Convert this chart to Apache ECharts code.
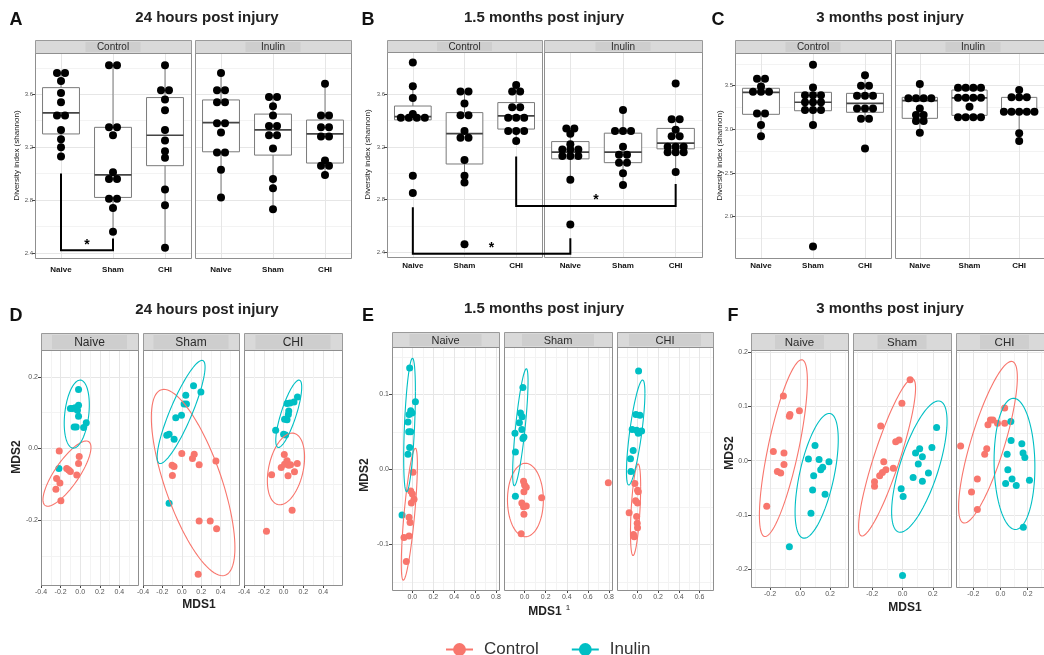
<!DOCTYPE html>
<html>
<head>
<meta charset="utf-8">
<script src="https://cdn.jsdelivr.net/npm/echarts@6/dist/echarts.min.js"></script>
<style>
  html, body { margin: 0; padding: 0; background: #fff; }
  #main { width: 1044px; height: 655px; }
</style>
</head>
<body>
<div id="main"></div>
<script>
// ---------- data ----------
var categories = ['Naive', 'Sham', 'CHI'];
var facetsTop = ['Control', 'Inulin'];
var facetsBottom = ['Naive', 'Sham', 'CHI'];
var groups = ['Control', 'Inulin'];

// Shannon index, one dot per animal: [Naive, Sham, CHI]
var h24_control_dots = [
  [3.76, 3.76, 3.70, 3.61, 3.54, 3.44, 3.44, 3.33, 3.26, 3.20, 3.13],
  [3.82, 3.82, 3.35, 3.35, 3.29, 3.01, 2.96, 2.96, 2.81, 2.81, 2.74, 2.56],
  [3.82, 3.63, 3.63, 3.56, 3.48, 3.33, 3.25, 3.17, 3.12, 2.88, 2.76, 2.44]
];
var h24_inulin_dots = [
  [3.76, 3.63, 3.63, 3.54, 3.54, 3.38, 3.38, 3.31, 3.16, 3.16, 3.03, 2.82],
  [3.58, 3.58, 3.51, 3.44, 3.36, 3.36, 3.29, 3.29, 3.19, 2.96, 2.89, 2.73],
  [3.68, 3.44, 3.44, 3.35, 3.35, 3.28, 3.28, 3.10, 3.06, 3.06, 2.99]
];
// box stats: [lower whisker, Q1, median, Q3, upper whisker]
var h24_control_box = [[3.13, 3.30, 3.46, 3.65, 3.76], [2.56, 2.82, 2.99, 3.35, 3.82], [2.44, 3.06, 3.29, 3.575, 3.82]];
var h24_inulin_box = [[2.82, 3.165, 3.385, 3.557, 3.76], [2.73, 3.14, 3.33, 3.45, 3.58], [2.99, 3.08, 3.30, 3.405, 3.68]];

var m15_control_dots = [
  [3.84, 3.66, 3.57, 3.45, 3.42, 3.42, 3.42, 3.42, 2.98, 2.85],
  [3.62, 3.62, 3.53, 3.44, 3.44, 3.32, 3.27, 3.27, 3.10, 2.98, 2.93, 2.46],
  [3.67, 3.62, 3.62, 3.50, 3.50, 3.42, 3.42, 3.42, 3.32, 3.32, 3.32, 3.245]
];
var m15_inulin_dots = [
  [3.34, 3.34, 3.30, 3.22, 3.18, 3.18, 3.18, 3.13, 3.13, 3.13, 2.95, 2.61],
  [3.48, 3.32, 3.32, 3.32, 3.20, 3.14, 3.14, 3.08, 3.08, 3.00, 2.91],
  [3.68, 3.41, 3.41, 3.33, 3.28, 3.28, 3.20, 3.20, 3.20, 3.16, 3.16, 3.16, 3.01]
];
var m15_control_box = [[3.405, 3.405, 3.43, 3.51, 3.66], [2.93, 3.07, 3.30, 3.46, 3.62], [3.245, 3.335, 3.435, 3.536, 3.67]];
var m15_inulin_box = [[2.95, 3.109, 3.16, 3.24, 3.34], [2.91, 3.08, 3.16, 3.304, 3.48], [3.01, 3.185, 3.228, 3.34, 3.41]];

var m3_control_dots = [
  [3.58, 3.58, 3.49, 3.43, 3.43, 3.43, 3.18, 3.18, 3.05, 2.92],
  [3.74, 3.48, 3.39, 3.39, 3.39, 3.31, 3.31, 3.31, 3.22, 3.22, 3.22, 3.05, 1.66],
  [3.62, 3.50, 3.50, 3.385, 3.385, 3.385, 3.24, 3.24, 3.24, 3.12, 3.12, 2.78]
];
var m3_inulin_dots = [
  [3.52, 3.355, 3.355, 3.355, 3.355, 3.24, 3.164, 3.164, 3.095, 3.095, 2.96],
  [3.477, 3.477, 3.477, 3.477, 3.362, 3.362, 3.362, 3.362, 3.26, 3.137, 3.137, 3.137, 3.137],
  [3.45, 3.366, 3.366, 3.366, 3.20, 3.20, 3.20, 3.20, 3.20, 2.955, 2.866]
];
var m3_control_box = [[2.92, 3.172, 3.424, 3.47, 3.58], [3.05, 3.213, 3.31, 3.424, 3.48], [3.12, 3.195, 3.298, 3.412, 3.62]];
var m3_inulin_box = [[2.96, 3.126, 3.328, 3.366, 3.52], [3.137, 3.16, 3.36, 3.45, 3.477], [2.866, 3.19, 3.20, 3.366, 3.45]];

// significance brackets: from/to = [facet, category, top of leg], base = bracket bottom
var h24_brackets = [{ from: [0, 0, 3.00], to: [0, 1, 2.51], base: 2.42, star: 2.474 }];
var m15_brackets = [
  { from: [0, 0, 2.742], to: [1, 0, 2.507], base: 2.388, star: 2.443 },
  { from: [0, 2, 3.126], to: [1, 2, 2.919], base: 2.752, star: 2.81 }
];

// MDS points [MDS1, MDS2], per facet [Naive, Sham, CHI]
var d_control_pts = [
  [[-0.214, -0.007], [-0.010, -0.022], [-0.017, -0.042], [-0.138, -0.056], [-0.117, -0.060], [-0.100, -0.064], [-0.035, -0.074], [-0.241, -0.084], [-0.207, -0.096], [-0.248, -0.114], [-0.197, -0.146]],
  [[0.0, -0.014], [0.128, -0.016], [0.110, -0.028], [0.179, -0.045], [0.352, -0.035], [-0.10, -0.047], [-0.08, -0.050], [-0.097, -0.075], [0.179, -0.202], [0.293, -0.202], [0.359, -0.224], [0.169, -0.351]],
  [[0.007, -0.017], [0.035, -0.034], [-0.024, -0.053], [0.010, -0.044], [0.052, -0.047], [0.138, -0.042], [0.110, -0.065], [0.045, -0.076], [-0.121, -0.073], [0.086, -0.172], [-0.173, -0.231], [0.070, -0.045]]
];
var d_inulin_pts = [
  [[-0.017, 0.165], [-0.100, 0.112], [-0.076, 0.112], [-0.052, 0.114], [-0.017, 0.121], [-0.028, 0.107], [-0.017, 0.090], [-0.041, 0.060], [-0.062, 0.060], [0.035, 0.059], [0.062, 0.072], [-0.217, -0.056]],
  [[0.121, 0.175], [0.197, 0.158], [0.041, 0.149], [0.024, 0.124], [0.048, 0.124], [-0.003, 0.093], [-0.062, 0.086], [-0.131, 0.040], [-0.155, 0.037], [-0.079, 0.026], [-0.131, -0.153]],
  [[0.140, 0.144], [0.105, 0.130], [0.065, 0.127], [0.035, 0.126], [0.052, 0.105], [0.048, 0.095], [0.035, 0.080], [0.010, 0.082], [-0.080, 0.051], [0.000, 0.040], [0.020, 0.038]]
];
var e_control_pts = [
  [[0.006, -0.004], [-0.016, -0.029], [0, -0.033], [0.016, -0.040], [-0.010, -0.045], [-0.032, -0.064], [-0.022, -0.071], [-0.032, -0.089], [-0.080, -0.091], [-0.058, -0.123]],
  [[-0.010, -0.016], [0, -0.021], [0.016, -0.024], [-0.006, -0.030], [0.162, -0.038], [-0.026, -0.045], [0.016, -0.049], [-0.010, -0.050], [-0.006, -0.060], [-0.032, -0.086], [0.794, -0.018]],
  [[-0.023, -0.019], [0.003, -0.028], [0.010, -0.030], [-0.016, -0.042], [0.003, -0.045], [-0.078, -0.058], [-0.006, -0.063], [0, -0.072], [0.003, -0.078], [-0.036, -0.087], [-0.029, -0.090]]
];
var e_inulin_pts = [
  [[-0.026, 0.135], [0.029, 0.090], [-0.016, 0.078], [-0.032, 0.073], [-0.003, 0.075], [-0.042, 0.063], [-0.035, 0.050], [-0.016, 0.050], [-0.026, 0.029], [-0.042, 0.020], [-0.099, -0.061]],
  [[-0.016, 0.109], [-0.039, 0.075], [-0.023, 0.070], [-0.049, 0.062], [-0.026, 0.053], [-0.091, 0.048], [-0.006, 0.043], [-0.016, 0.041], [-0.087, 0.023], [-0.087, -0.036]],
  [[0.013, 0.131], [-0.013, 0.073], [0.026, 0.072], [-0.049, 0.053], [-0.006, 0.052], [0.019, 0.050], [0.042, 0.051], [-0.039, 0.025], [-0.065, 0.014], [-0.061, -0.003], [0.010, 0.048]]
];
var f_control_pts = [
  [[-0.111, 0.119], [-0.071, 0.082], [-0.067, 0.085], [-0.004, 0.092], [-0.178, 0.017], [-0.107, 0.014], [-0.107, -0.007], [-0.151, -0.020], [-0.129, -0.023], [-0.222, -0.084]],
  [[0.050, 0.149], [-0.004, 0.106], [-0.144, 0.064], [-0.023, 0.038], [-0.045, 0.035], [-0.124, -0.002], [-0.061, -0.014], [-0.110, -0.017], [-0.133, -0.022], [-0.151, -0.028], [-0.185, -0.039], [-0.185, -0.047]],
  [[-0.293, 0.027], [0.031, 0.097], [-0.092, 0.066], [-0.074, 0.075], [-0.056, 0.075], [-0.022, 0.069], [0.031, 0.069], [-0.101, 0.022], [-0.116, 0.012], [-0.170, -0.034], [-0.213, -0.058], [-0.170, -0.090]]
];
var f_inulin_pts = [
  [[0.100, 0.028], [0.056, 0.003], [0.127, 0.002], [0.193, -0.002], [0.151, -0.012], [0.138, -0.017], [0.091, -0.028], [0.084, -0.054], [0.167, -0.062], [0.073, -0.097], [-0.071, -0.159]],
  [[0.225, 0.061], [0.194, 0.024], [0.113, 0.022], [0.086, 0.014], [0.131, 0.007], [0.104, -0.006], [0.171, -0.023], [0.070, -0.031], [0.131, -0.038], [-0.009, -0.052], [0.004, -0.066], [0, -0.212]],
  [[0.076, 0.072], [0.078, 0.037], [0.049, 0.012], [0.157, 0.031], [0.166, 0.014], [0.179, 0.006], [0.054, -0.017], [0.085, -0.034], [0.038, -0.042], [0.116, -0.046], [0.213, -0.036], [0.168, -0.123]]
];

// 95% ellipses: [centre x, centre y, half-width x, half-height y, correlation]
var d_control_ell = [[-0.135, -0.070, 0.245, 0.091, 0.80], [0.117, -0.095, 0.431, 0.260, -0.70], [0.024, -0.057, 0.188, 0.100, 0.33]];
var d_inulin_ell = [[-0.035, 0.096, 0.128, 0.095, 0.27], [-0.007, 0.102, 0.247, 0.144, 0.87], [0.052, 0.097, 0.131, 0.094, 0.79]];
var e_control_ell = [[-0.029, -0.060, 0.077, 0.088, 0.75], [0.008, -0.041, 0.170, 0.049, 0.0], [-0.016, -0.054, 0.049, 0.061, 0.5]];
var e_inulin_ell = [[-0.027, 0.059, 0.056, 0.089, 0.5], [-0.040, 0.056, 0.073, 0.078, 0.78], [-0.015, 0.049, 0.089, 0.070, 0.75]];
var f_control_ell = [[-0.111, 0.023, 0.160, 0.163, 0.76], [-0.102, 0.006, 0.188, 0.145, 0.88], [-0.092, 0.034, 0.216, 0.149, 0.80]];
var f_inulin_ell = [[0.111, -0.028, 0.144, 0.115, 0.58], [0.111, -0.011, 0.183, 0.121, 0.69], [0.103, -0.006, 0.150, 0.121, -0.05]];

// ---------- layout ----------
var FONT = '"Liberation Sans", Arial, Helvetica, sans-serif';
var RED = '#F8766D', TEAL = '#00BFC4';
var DOT_PX = 8, BOX_HALF = 0.355;

var topPanels = [
  { letter: 'A', title: '24 hours post injury', titleX: 207, letterX: 16, nameX: 17,
    dots: [h24_control_dots, h24_inulin_dots], box: [h24_control_box, h24_inulin_box], brackets: h24_brackets,
    lefts: [35, 195], widths: [156, 156], top: 53, bottom: 258, stripTop: 40, xMargin: 8,
    yMin: 2.362, yMax: 3.912, yStep: 0.4 },
  { letter: 'B', title: '1.5 months post injury', titleX: 544, letterX: 368, nameX: 368,
    dots: [m15_control_dots, m15_inulin_dots], box: [m15_control_box, m15_inulin_box], brackets: m15_brackets,
    lefts: [387, 544], widths: [155, 158], top: 52, bottom: 257, stripTop: 40, xMargin: 5,
    yMin: 2.364, yMax: 3.92, yStep: 0.4 },
  { letter: 'C', title: '3 months post injury', titleX: 890, letterX: 718, nameX: 720,
    dots: [m3_control_dots, m3_inulin_dots], box: [m3_control_box, m3_inulin_box], brackets: [],
    lefts: [735, 895], widths: [156, 156], top: 53, bottom: 258, stripTop: 40, xMargin: 4,
    yMin: 1.527, yMax: 3.874, yStep: 0.5 }
];

var bottomPanels = [
  { letter: 'D', title: '24 hours post injury', titleX: 207, titleY: 310, letterX: 16,
    pts: [d_control_pts, d_inulin_pts], ell: [d_control_ell, d_inulin_ell],
    lefts: [41, 143, 244], widths: [97, 96, 98], top: 350, bottom: 585, stripTop: 333, strip: 12, blockW: 75,
    xMin: -0.4, xMax: [0.59, 0.59, 0.59], yMin: -0.381, yMax: 0.275, yStep: 0.2,
    mds1: [199, 605], mds2: [17, 457], sup: false },
  { letter: 'E', title: '1.5 months post injury', titleX: 544, titleY: 309, letterX: 368,
    pts: [e_control_pts, e_inulin_pts], ell: [e_control_ell, e_inulin_ell],
    lefts: [392, 504, 617], widths: [107, 108, 96], top: 347, bottom: 590, stripTop: 332, strip: 11, blockW: 72,
    xMin: -0.195, xMax: [0.829, 0.829, 0.73], yMin: -0.161, yMax: 0.163, yStep: 0.1,
    mds1: [545, 612], mds2: [365, 475], sup: true },
  { letter: 'F', title: '3 months post injury', titleX: 890, titleY: 309, letterX: 733,
    pts: [f_control_pts, f_inulin_pts], ell: [f_control_ell, f_inulin_ell],
    lefts: [751, 853, 956], widths: [97, 98, 97], top: 350, bottom: 587, stripTop: 333, strip: 11.5, blockW: 49,
    xMin: -0.327, xMax: [0.32, 0.32, 0.32], yMin: -0.233, yMax: 0.204, yStep: 0.1,
    mds1: [905, 608], mds2: [730, 453], sup: false }
];

var grids = [], xAxes = [], yAxes = [], series = [], shapes = [];

function fmt1(v, step) {
  var k = Math.round(v / step);
  return k === 0 ? '0.0' : (k * step).toFixed(1);
}
function multiples(min, max, step) {
  var out = [];
  for (var k = Math.ceil(min / step - 1e-9); k <= Math.floor(max / step + 1e-9); k++) out.push(+(k * step).toFixed(6));
  return out;
}
function valueAxis(min, max, step, o) {
  var ticks = multiples(min, max, step);
  return {
    type: 'value', min: min, max: max,
    splitNumber: Math.max(1, Math.round((max - min) / step)),
    minInterval: step, maxInterval: step,
    axisLine: { show: false, onZero: false },
    axisTick: { show: !!o.labels, length: 3, customValues: ticks, lineStyle: { color: '#444' } },
    axisLabel: {
      show: !!o.labels, customValues: ticks, fontSize: o.fontSize || 7, color: '#555',
      fontFamily: FONT, margin: o.margin || 3,
      formatter: o.formatter || function (v) { return fmt1(v, step); }
    },
    splitLine: { show: true, lineStyle: { color: '#e6e6e6', width: 1 } },
    minorTick: { show: false, splitNumber: 2 },
    minorSplitLine: { show: o.minor !== false, lineStyle: { color: '#f3f3f3', width: 1 } }
  };
}
function addGrid(left, top, width, height, xa, ya) {
  var i = grids.length;
  grids.push({ left: left, top: top, width: width, height: height });
  xa.gridIndex = i; ya.gridIndex = i;
  xAxes.push(xa); yAxes.push(ya);
  return i;
}
function text(x, y, str, font, color, extra) {
  var el = { type: 'text', x: x, y: y, z: 130,
    style: { text: str, font: font, fill: color, align: 'center', verticalAlign: 'middle' } };
  if (extra) Object.assign(el, extra);
  return el;
}
function addStrip(x, y, w, h, label, fs, blockW) {
  shapes.push({ type: 'rect', z: 90, shape: { x: x + 0.5, y: y + 0.5, width: w, height: h }, style: { fill: '#d9d9d9', stroke: '#9a9a9a', lineWidth: 1 } });
  shapes.push({ type: 'rect', z: 91, shape: { x: x + w / 2 - blockW / 2, y: y + 2, width: blockW, height: h - 3 }, style: { fill: '#cecece' } });
  shapes.push(text(x + w / 2, y + h / 2 + 1, label, fs + 'px ' + FONT, '#2a2a2a', { z: 92 }));
}
function addBorder(x, y, w, h) {
  shapes.push({ type: 'rect', z: 100, shape: { x: x + 0.5, y: y + 0.5, width: w, height: h }, style: { fill: 'none', stroke: '#8f8f8f', lineWidth: 1 } });
}

// dots at the same value sit side by side, centred on the category
function dotPoints(valuesByCat, step) {
  var pts = [];
  valuesByCat.forEach(function (vals, ci) {
    var counts = {}, seen = {};
    vals.forEach(function (v) { counts[v] = (counts[v] || 0) + 1; });
    vals.forEach(function (v) {
      var k = seen[v] || 0;
      seen[v] = k + 1;
      pts.push([ci + (k - (counts[v] - 1) / 2) * step, v]);
    });
  });
  return pts;
}

function renderBox(params, api) {
  var x = api.value(0);
  var lo = api.coord([x, api.value(1)]), q1 = api.coord([x, api.value(2)]),
      md = api.coord([x, api.value(3)]), q3 = api.coord([x, api.value(4)]), hi = api.coord([x, api.value(5)]);
  var half = api.size([BOX_HALF, 0])[0], cx = lo[0];
  var grey = { stroke: '#7a7a7a', lineWidth: 1 };
  return { type: 'group', children: [
    { type: 'line', shape: { x1: cx, y1: hi[1], x2: cx, y2: q3[1] }, style: grey },
    { type: 'line', shape: { x1: cx, y1: q1[1], x2: cx, y2: lo[1] }, style: grey },
    { type: 'rect', shape: { x: cx - half, y: q3[1], width: 2 * half, height: q1[1] - q3[1] }, style: { fill: '#fff', stroke: '#7a7a7a', lineWidth: 1 } },
    { type: 'line', shape: { x1: cx - half, y1: md[1], x2: cx + half, y2: md[1] }, style: { stroke: '#444', lineWidth: 1.7 } }
  ] };
}

function renderEllipse(params, api) {
  var cx = api.value(0), cy = api.value(1), hx = api.value(2), hy = api.value(3), r = api.value(4);
  var s = Math.sqrt(1 - r * r), pts = [];
  for (var k = 0; k <= 96; k++) {
    var t = k / 96 * 2 * Math.PI;
    pts.push(api.coord([cx + hx * Math.cos(t), cy + hy * (r * Math.cos(t) + s * Math.sin(t))]));
  }
  return { type: 'polyline', shape: { points: pts }, style: { fill: 'none', stroke: api.visual('color'), lineWidth: 1.1 } };
}

// ---------- top row: diversity boxplots ----------
topPanels.forEach(function (p) {
  p.grids = [];
  facetsTop.forEach(function (fname, f) {
    var left = p.lefts[f], width = p.widths[f];
    var xa = valueAxis(-0.5, 2.5, 1, { labels: true, minor: false, margin: p.xMargin, fontSize: 8,
      formatter: function (v) { return categories[Math.round(v)] || ''; } });
    xa.axisTick.show = false;
    xa.axisLabel.fontWeight = 'bold';
    xa.axisLabel.color = '#111';
    var ya = valueAxis(p.yMin, p.yMax, p.yStep, { labels: f === 0, fontSize: 6, margin: 2 });
    var g = addGrid(left, p.top, width, p.bottom - p.top, xa, ya);
    p.grids.push(g);
    series.push({ type: 'custom', xAxisIndex: g, yAxisIndex: g, silent: true, z: 2,
      data: p.box[f].map(function (s, i) { return [i].concat(s); }), renderItem: renderBox });
    series.push({ type: 'scatter', xAxisIndex: g, yAxisIndex: g, silent: true, z: 3, symbolSize: 8,
      itemStyle: { color: '#000', opacity: 1 }, data: dotPoints(p.dots[f], DOT_PX / (width / 3)) });
    addStrip(left, p.stripTop, width, p.top - p.stripTop, fname, 10, 55);
    addBorder(left, p.top, width, p.bottom - p.top);
  });
  shapes.push(text(p.letterX, 20, p.letter, 'bold 18px ' + FONT, '#111'));
  shapes.push(text(p.titleX, 18, p.title, 'bold 15px ' + FONT, '#222'));
  shapes.push(text(p.nameX, (p.top + p.bottom) / 2, 'Diversity index (shannon)', '8px ' + FONT, '#222', { rotation: Math.PI / 2 }));
});

// ---------- bottom row: MDS ordination ----------
bottomPanels.forEach(function (p) {
  facetsBottom.forEach(function (fname, f) {
    var left = p.lefts[f], width = p.widths[f];
    var xa = valueAxis(p.xMin, p.xMax[f], 0.2, { labels: true, margin: 4, fontSize: 7 });
    var ya = valueAxis(p.yMin, p.yMax, p.yStep, { labels: f === 0, margin: 3, fontSize: 7 });
    var g = addGrid(left, p.top, width, p.bottom - p.top, xa, ya);
    [RED, TEAL].forEach(function (col, gi) {
      series.push({ type: 'custom', xAxisIndex: g, yAxisIndex: g, silent: true, clip: true, z: 3,
        itemStyle: { color: col }, data: [p.ell[gi][f]], renderItem: renderEllipse });
      series.push({ type: 'scatter', name: groups[gi] + '-' + p.letter + f, xAxisIndex: g, yAxisIndex: g,
        silent: true, z: 2, symbolSize: 7, itemStyle: { color: col, opacity: 1 }, data: p.pts[gi][f] });
    });
    addStrip(left, p.stripTop, width, p.top - p.stripTop, fname, p.strip, p.blockW);
    addBorder(left, p.top, width, p.bottom - p.top);
  });
  shapes.push(text(p.letterX, 316, p.letter, 'bold 18px ' + FONT, '#111'));
  shapes.push(text(p.titleX, p.titleY, p.title, 'bold 15px ' + FONT, '#222'));
  shapes.push(text(p.mds1[0], p.mds1[1], 'MDS1', 'bold 12px ' + FONT, '#222'));
  if (p.sup) shapes.push(text(p.mds1[0] + 23, p.mds1[1] - 4, '1', '8px ' + FONT, '#222'));
  shapes.push(text(p.mds2[0], p.mds2[1], 'MDS2', 'bold 12px ' + FONT, '#222', { rotation: Math.PI / 2 }));
});

// legend keys only
groups.forEach(function (name, gi) {
  series.push({ type: 'line', name: name, data: [], symbol: 'circle', color: gi ? TEAL : RED, lineStyle: { width: 2 } });
});

var chart = echarts.init(document.getElementById('main'));
chart.setOption({
  animation: false,
  backgroundColor: '#fff',
  grid: grids,
  xAxis: xAxes,
  yAxis: yAxes,
  series: series,
  legend: {
    data: groups, left: 440, top: 636, itemWidth: 27, itemHeight: 16, itemGap: 32,
    selectedMode: false,
    textStyle: { fontSize: 17, color: '#333', fontFamily: FONT, padding: [0, 0, 0, 6] }
  }
});

// significance brackets, placed through the axes
topPanels.forEach(function (p) {
  p.brackets.forEach(function (b) {
    var g0 = p.grids[b.from[0]], g1 = p.grids[b.to[0]];
    var a = chart.convertToPixel({ gridIndex: g0 }, [b.from[1], b.from[2]]);
    var c = chart.convertToPixel({ gridIndex: g1 }, [b.to[1], b.to[2]]);
    var base = chart.convertToPixel({ gridIndex: g0 }, [0, b.base])[1];
    var sy = chart.convertToPixel({ gridIndex: g0 }, [0, b.star])[1];
    shapes.push({ type: 'polyline', z: 120, shape: { points: [a, [a[0], base], [c[0], base], c] },
      style: { fill: 'none', stroke: '#000', lineWidth: 2 } });
    shapes.push(text((a[0] + c[0]) / 2, sy + 2, '*', 'bold 14px ' + FONT, '#000'));
  });
});

chart.setOption({ graphic: { elements: shapes } });
</script>
</body>
</html>
